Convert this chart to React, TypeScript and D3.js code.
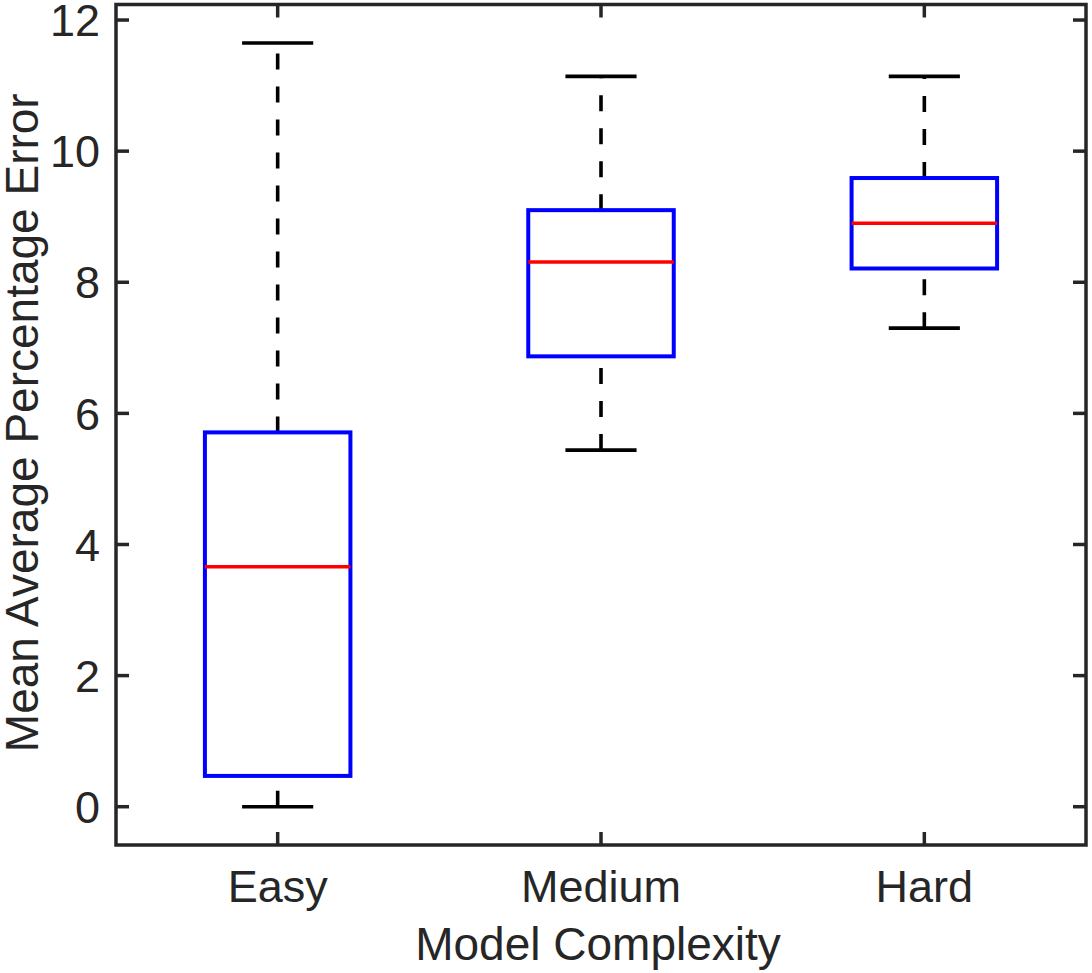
import React from 'react';
import * as d3 from 'd3';

// Box plot summary for each model complexity level
const categories = ['Easy', 'Medium', 'Hard'];
const lowerWhisker = [0.0, 5.44, 7.3];
const q1 = [0.47, 6.87, 8.21];
const median = [3.66, 8.31, 8.9];
const q3 = [5.71, 9.1, 9.59];
const upperWhisker = [11.65, 11.14, 11.14];
const yTicks = [0, 2, 4, 6, 8, 10, 12];

const W = 1092;
const H = 973;
const left = 116;
const right = 1086;
const top = 4.5;
const bottom = 845;

const axisColor = '#262626';
const font = '"Liberation Sans", Arial, Helvetica, sans-serif';
const tickFontSize = 45;
const labelFontSize = 46;

export default function App() {
  const x = d3.scaleLinear().domain([0.5, 3.5]).range([left, right]);
  const y = d3.scaleLinear().domain([-0.584, 12.237]).range([bottom, top]);
  const boxHalf = 0.225;
  const capHalf = 0.11;
  const tickLen = 13;
  const lw = 3.6;

  return (
    <svg
      width={W}
      height={H}
      style={{ position: 'absolute', left: 0, top: 0, display: 'block', background: '#fff' }}
    >
      <rect x={0} y={0} width={W} height={H} fill="#fff" />
      {categories.map((c, i) => {
        const cx = x(i + 1);
        return (
          <g key={c}>
            {/* whiskers, drawn from the lower value toward the higher one */}
            <line
              x1={cx}
              x2={cx}
              y1={y(lowerWhisker[i])}
              y2={y(q1[i])}
              stroke="#000"
              strokeWidth={lw}
              strokeDasharray="16 17"
            />
            <line
              x1={cx}
              x2={cx}
              y1={y(q3[i])}
              y2={y(upperWhisker[i])}
              stroke="#000"
              strokeWidth={lw}
              strokeDasharray="16 17"
            />
            {/* whisker caps */}
            <line
              x1={x(i + 1 - capHalf)}
              x2={x(i + 1 + capHalf)}
              y1={y(lowerWhisker[i])}
              y2={y(lowerWhisker[i])}
              stroke="#000"
              strokeWidth={lw}
            />
            <line
              x1={x(i + 1 - capHalf)}
              x2={x(i + 1 + capHalf)}
              y1={y(upperWhisker[i])}
              y2={y(upperWhisker[i])}
              stroke="#000"
              strokeWidth={lw}
            />
            {/* interquartile box */}
            <rect
              x={x(i + 1 - boxHalf)}
              y={y(q3[i])}
              width={x(i + 1 + boxHalf) - x(i + 1 - boxHalf)}
              height={y(q1[i]) - y(q3[i])}
              fill="none"
              stroke="#0000ff"
              strokeWidth={4}
            />
            {/* median */}
            <line
              x1={x(i + 1 - boxHalf)}
              x2={x(i + 1 + boxHalf)}
              y1={y(median[i])}
              y2={y(median[i])}
              stroke="#ff0000"
              strokeWidth={lw}
            />
          </g>
        );
      })}

      {/* axes frame and ticks */}
      <g stroke={axisColor} strokeWidth={3.5} fill="none">
        <rect x={left} y={top} width={right - left} height={bottom - top} />
        {yTicks.map((t) => (
          <g key={t}>
            <line x1={left} x2={left + tickLen} y1={y(t)} y2={y(t)} />
            <line x1={right} x2={right - tickLen} y1={y(t)} y2={y(t)} />
          </g>
        ))}
        {categories.map((c, i) => (
          <g key={c}>
            <line x1={x(i + 1)} x2={x(i + 1)} y1={bottom} y2={bottom - tickLen} />
            <line x1={x(i + 1)} x2={x(i + 1)} y1={top} y2={top + tickLen} />
          </g>
        ))}
      </g>

      <g fill={axisColor} fontFamily={font}>
        {yTicks.map((t) => (
          <text key={t} x={100} y={y(t)} dy="0.36em" textAnchor="end" fontSize={tickFontSize}>
            {t}
          </text>
        ))}
        {categories.map((c, i) => (
          <text key={c} x={x(i + 1)} y={902} textAnchor="middle" fontSize={tickFontSize}>
            {c}
          </text>
        ))}
        <text x={(left + right) / 2 - 3} y={960} textAnchor="middle" fontSize={labelFontSize}>
          Model Complexity
        </text>
        <text
          transform={`translate(38, ${(top + bottom) / 2 - 2}) rotate(-90)`}
          textAnchor="middle"
          fontSize={labelFontSize}
        >
          Mean Average Percentage Error
        </text>
      </g>
    </svg>
  );
}
